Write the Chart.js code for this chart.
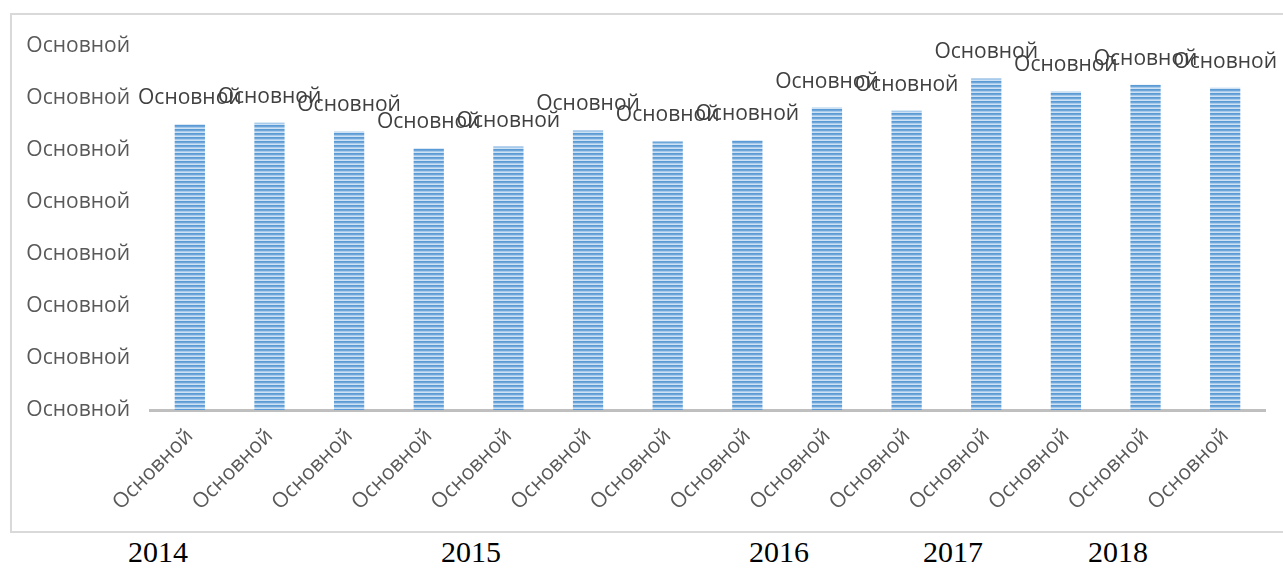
<!DOCTYPE html>
<html>
<head>
<meta charset="utf-8">
<script src="https://cdn.jsdelivr.net/npm/chart.js@4.4.1/dist/chart.umd.min.js"></script>
<style>
  html, body { margin: 0; padding: 0; background: #fff; }
  body { width: 1283px; height: 570px; position: relative; overflow: hidden; }
  #box { position: absolute; left: 10px; top: 13px; width: 1275px; height: 520px; border: 2px solid #d9d9d9; box-sizing: border-box; overflow: hidden; }
  #box canvas { position: absolute; left: 0; top: -2px; }
  .year { position: absolute; top: 535px; font-family: "Liberation Serif", "Times New Roman", serif; font-size: 30px; color: #000; transform: translateX(-50%); }
</style>
</head>
<body>
<div id="box"><canvas id="chart" width="1271" height="518"></canvas></div>
<div id="years"></div>
<script>
// chart values
const categories = ["Основной","Основной","Основной","Основной","Основной","Основной","Основной",
                    "Основной","Основной","Основной","Основной","Основной","Основной","Основной"];
const values = [5.49, 5.52, 5.35, 5.03, 5.06, 5.37, 5.16, 5.18, 5.81, 5.75, 6.37, 6.12, 6.25, 6.19];
const yTickLabels = ["Основной","Основной","Основной","Основной","Основной","Основной","Основной","Основной"];
const pointLabel = "Основной";
const years = ["2014", "2015", "2016", "2017", "2018"];
const yearX = [158, 471, 779, 953, 1118];

years.forEach((y, i) => {
  const d = document.createElement("div");
  d.className = "year";
  d.style.left = yearX[i] + "px";
  d.textContent = y;
  document.body.appendChild(d);
});

// striped fill like the Excel pattern
function stripes() {
  const c = document.createElement("canvas");
  c.width = 4; c.height = 4;
  const g = c.getContext("2d");
  g.fillStyle = "#6ea6da"; g.fillRect(0, 0, 4, 4);
  g.fillStyle = "#5b9bd5"; g.fillRect(0, 0, 4, 1);
  g.fillStyle = "#a9cbeb"; g.fillRect(0, 2, 4, 1);
  g.fillStyle = "#cfe2f4"; g.fillRect(0, 3, 4, 1);
  return g.createPattern(c, "repeat");
}

const labelPlugin = {
  id: "barLabels",
  afterDatasetsDraw(chart) {
    const ctx = chart.ctx;
    const meta = chart.getDatasetMeta(0);
    ctx.save();
    ctx.font = "21px 'Open Sans'";
    ctx.fillStyle = "#404040";
    ctx.textAlign = "center";
    ctx.textBaseline = "middle";
    meta.data.forEach(bar => ctx.fillText(pointLabel, bar.x, bar.y - 26));
    ctx.restore();
  }
};

const stripe = stripes();

new Chart(document.getElementById("chart"), {
  type: "bar",
  data: {
    labels: categories,
    datasets: [{
      data: values,
      backgroundColor: stripe,
      borderWidth: 0,
      barPercentage: 0.76,
      categoryPercentage: 0.5
    }]
  },
  options: {
    responsive: false,
    animation: false,
    layout: { padding: { top: 0, right: 18, left: 0, bottom: 0 } },
    plugins: { legend: { display: false }, tooltip: { enabled: false } },
    scales: {
      x: {
        grid: { display: false, drawTicks: false },
        border: { display: true, color: "#bfbfbf", width: 3 },
        ticks: {
          color: "#595959",
          font: { family: "'Open Sans'", size: 21 },
          minRotation: 45, maxRotation: 45,
          padding: 14,
          autoSkip: false
        },
        afterFit(s) { s.height = 121; }
      },
      y: {
        min: 0, max: 7,
        grid: { display: false, drawTicks: false },
        border: { display: false },
        ticks: {
          stepSize: 1,
          color: "#595959",
          font: { family: "'Open Sans'", size: 21 },
          padding: 20,
          callback: (v, i) => yTickLabels[i]
        },
        afterFit(s) { s.width = 138; }
      }
    }
  },
  plugins: [labelPlugin]
});
</script>
</body>
</html>
